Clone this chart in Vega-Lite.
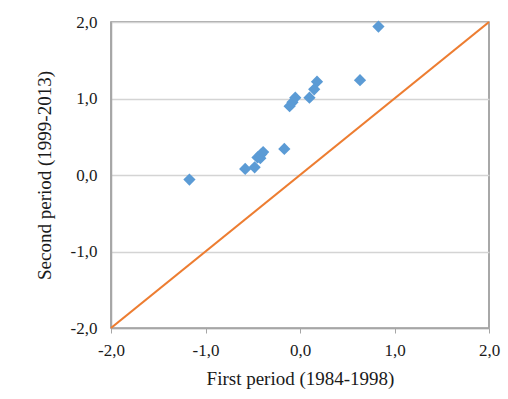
{
  "$schema": "https://vega.github.io/schema/vega-lite/v6.json",
  "width": 378,
  "height": 306,
  "autosize": "none",
  "padding": {"left": 111, "top": 22, "right": 19, "bottom": 71},
  "background": "white",
  "config": {
    "view": {"stroke": "#8c8c8c", "strokeWidth": 1.5},
    "axis": {
      "labelFont": "Liberation Serif",
      "labelFontSize": 17,
      "labelColor": "#1a1a1a",
      "labelFlush": false,
      "labelOverlap": false,
      "titleFont": "Liberation Serif",
      "titleFontSize": 19,
      "titleFontWeight": "normal",
      "titleColor": "#1a1a1a",
      "domainColor": "#a6a6a6",
      "domainWidth": 1.5
    }
  },
  "datasets": {
    "points": [
      {"first": -1.17, "second": -0.06},
      {"first": -0.58, "second": 0.08},
      {"first": -0.48, "second": 0.10},
      {"first": -0.45, "second": 0.23},
      {"first": -0.42, "second": 0.22},
      {"first": -0.41, "second": 0.27},
      {"first": -0.39, "second": 0.30},
      {"first": -0.166, "second": 0.34},
      {"first": -0.11, "second": 0.90},
      {"first": -0.08, "second": 0.95},
      {"first": -0.05, "second": 1.01},
      {"first": 0.10, "second": 1.01},
      {"first": 0.15, "second": 1.12},
      {"first": 0.18, "second": 1.22},
      {"first": 0.635, "second": 1.24},
      {"first": 0.83, "second": 1.94}
    ],
    "diag": [
      {"first": -2, "second": -2},
      {"first": 2, "second": 2}
    ]
  },
  "layer": [
    {
      "data": {"name": "diag"},
      "mark": {"type": "line", "color": "#ED7D31", "strokeWidth": 2.2},
      "encoding": {
        "x": {"field": "first", "type": "quantitative"},
        "y": {"field": "second", "type": "quantitative"}
      }
    },
    {
      "data": {"name": "points"},
      "mark": {"type": "point", "shape": "diamond", "filled": true, "color": "#5B9BD5", "size": 150, "opacity": 1},
      "encoding": {
        "x": {
          "field": "first",
          "type": "quantitative",
          "scale": {"domain": [-2, 2], "nice": false, "zero": false},
          "axis": {
            "title": "First period (1984-1998)",
            "values": [-2, -1, 0, 1, 2],
            "grid": false,
            "ticks": true,
            "tickSize": 5,
            "tickColor": "#a6a6a6",
            "labelPadding": 9,
            "titlePadding": 11,
            "labelExpr": "replace(replace(format(datum.value, '.1f'), '.', ','), '\u2212', '-')"
          }
        },
        "y": {
          "field": "second",
          "type": "quantitative",
          "scale": {"domain": [-2, 2], "nice": false, "zero": false},
          "axis": {
            "title": "Second period (1999-2013)",
            "values": [-2, -1, 0, 1, 2],
            "grid": true,
            "gridColor": "#d4d4d4",
            "gridWidth": 1.5,
            "ticks": false,
            "labelPadding": 14,
            "titlePadding": 16,
            "labelExpr": "replace(replace(format(datum.value, '.1f'), '.', ','), '\u2212', '-')"
          }
        }
      }
    }
  ]
}
